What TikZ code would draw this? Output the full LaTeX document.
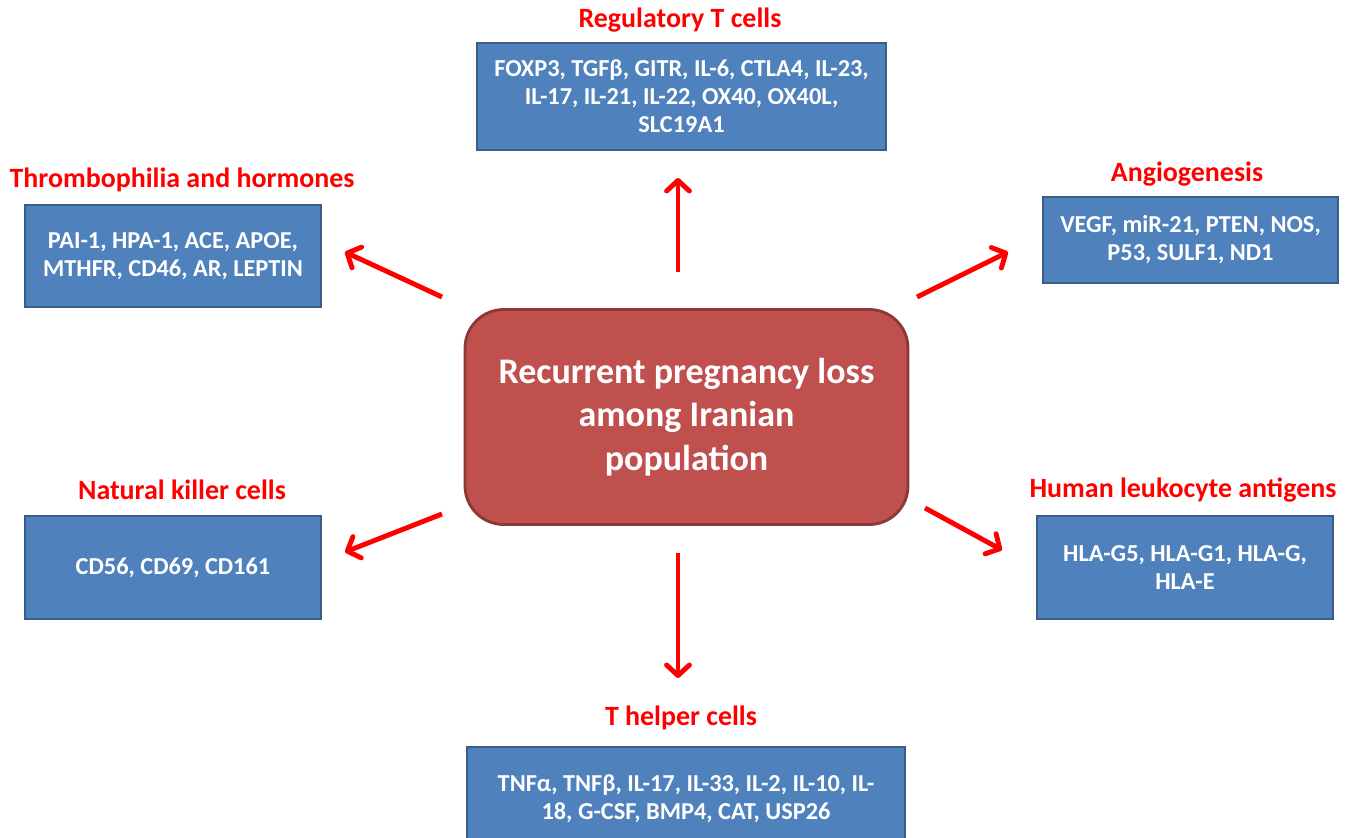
\documentclass[tikz,border=0pt]{standalone}
\usepackage{fontspec}
\setmainfont{Carlito}
\usepackage{tikz}
\usetikzlibrary{arrows.meta}

\definecolor{boxblue}{HTML}{4F81BD}
\definecolor{boxedge}{HTML}{385D8A}
\definecolor{hubred}{HTML}{C0504D}
\definecolor{hubedge}{HTML}{8C3836}

\begin{document}
\begin{tikzpicture}[x=0.02cm, y=-0.02cm, font=\bfseries]
    \tikzstyle{genebox} = [rectangle, draw=boxedge, fill=boxblue, line width=1.6pt, text=white,
        align=center, inner sep=0pt, font=\fontsize{13.85}{16}\selectfont\bfseries]
    \tikzstyle{group} = [text=red, font=\fontsize{15.9}{18}\selectfont\bfseries]
    \tikzstyle{hub} = [rectangle, rounded corners=22pt, draw=hubedge, fill=hubred, line width=1.6pt,
        text=white, align=center, inner sep=0pt, font=\fontsize{20.5}{24.7}\selectfont\bfseries]
    \tikzstyle{arr} = [red, line width=2.8pt, -{Straight Barb[round, length=6pt, width=13pt]}]
    \clip (0,0) rectangle (1349,838);

    % centre
    \node[hub, minimum width=443*0.02cm, minimum height=215*0.02cm] (rpl) at (686.5,417)
        {Recurrent pregnancy loss\\among Iranian\\population};

    % groups
    \node[genebox, minimum width=409*0.02cm, minimum height=107*0.02cm] (treg) at (681.5,96.5)
        {FOXP3, TGFβ, GITR, IL-6, CTLA4, IL-23,\\IL-17, IL-21, IL-22, OX40, OX40L,\\SLC19A1};
    \node[group] (tregt) at (680,20) {Regulatory T cells};

    \node[genebox, minimum width=296*0.02cm, minimum height=102*0.02cm] (thr) at (173,256)
        {PAI-1, HPA-1, ACE, APOE,\\MTHFR, CD46, AR, LEPTIN};
    \node[group] (thrt) at (182,180) {Thrombophilia and hormones};

    \node[genebox, minimum width=295*0.02cm, minimum height=86*0.02cm] (ang) at (1190.5,240)
        {VEGF, miR-21, PTEN, NOS,\\P53, SULF1, ND1};
    \node[group] (angt) at (1187,174) {Angiogenesis};

    \node[genebox, minimum width=296*0.02cm, minimum height=103*0.02cm] (nk) at (173,567.5)
        {CD56, CD69, CD161};
    \node[group] (nkt) at (182,490) {Natural killer cells};

    \node[genebox, minimum width=296*0.02cm, minimum height=103*0.02cm] (hla) at (1185,567.5)
        {HLA-G5, HLA-G1, HLA-G,\\HLA-E};
    \node[group] (hlat) at (1183,490) {Human leukocyte antigens};

    \node[genebox, minimum width=438*0.02cm, minimum height=104*0.02cm] (th) at (686,799)
        {TNFα, TNFβ, IL-17, IL-33, IL-2, IL-10, IL-\\18, G-CSF, BMP4, CAT, USP26};
    \node[group] (tht) at (681,718) {T helper cells};

    % arrow ends
    \coordinate (a1) at (678,272);  \coordinate (b1) at (678,178);
    \coordinate (a2) at (442,297);  \coordinate (b2) at (345,252);
    \coordinate (a3) at (917,297);  \coordinate (b3) at (1008,252);
    \coordinate (a4) at (442,514);  \coordinate (b4) at (345,552);
    \coordinate (a5) at (925,508);  \coordinate (b5) at (1002,550);
    \coordinate (a6) at (678,553);  \coordinate (b6) at (678,678);
    \foreach \i in {1,...,6} {
        \draw[arr] (a\i) -- (b\i);
    }
\end{tikzpicture}
\end{document}
